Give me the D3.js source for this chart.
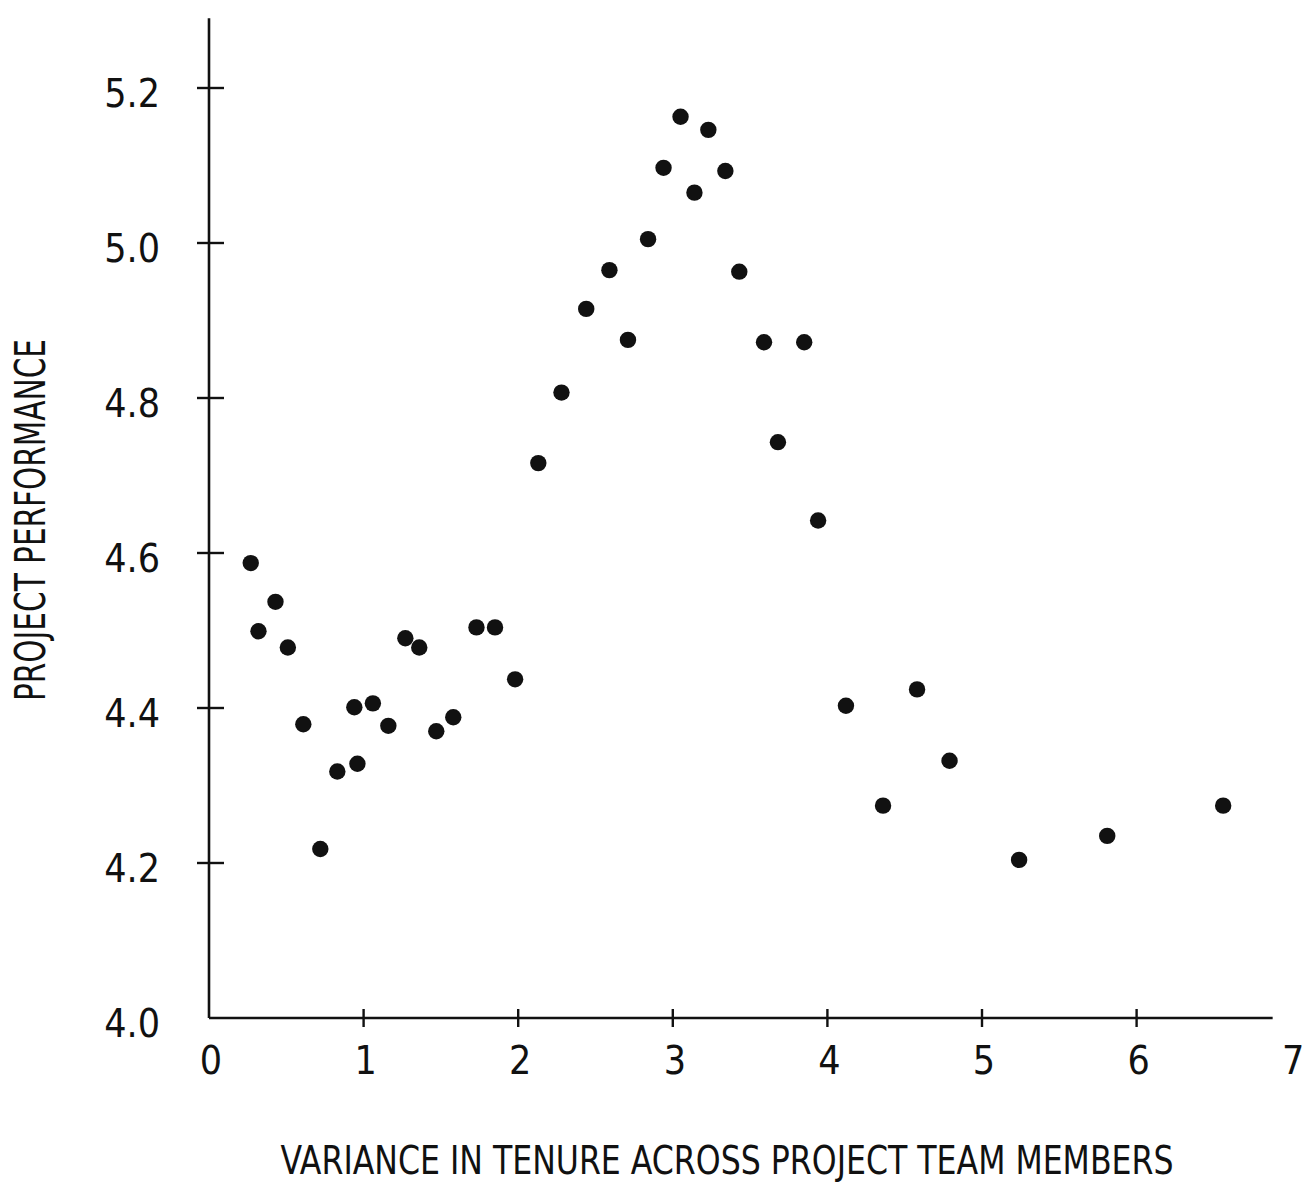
<!DOCTYPE html>
<html>
<head>
<meta charset="utf-8">
<script src="https://cdn.jsdelivr.net/npm/d3@7"></script>
<style>
  html, body { margin: 0; padding: 0; background: #fff; }
  svg { display: block; }
  text { font-family: "DejaVu Sans Condensed", "DejaVu Sans", sans-serif; font-stretch: condensed; fill: #111; }
</style>
</head>
<body>
<svg id="chart" width="1305" height="1185"></svg>
<script>
// ---- data ----
const tenureVariance = [0.27, 0.32, 0.43, 0.51, 0.61, 0.72, 0.83, 0.94, 0.96, 1.06,
  1.16, 1.27, 1.36, 1.47, 1.58, 1.73, 1.85, 1.98, 2.13, 2.28,
  2.44, 2.59, 2.71, 2.84, 2.94, 3.05, 3.14, 3.23, 3.34, 3.43,
  3.59, 3.68, 3.85, 3.94, 4.12, 4.36, 4.58, 4.79, 5.24, 5.81, 6.56];
const performance = [4.587, 4.499, 4.537, 4.478, 4.379, 4.218, 4.318, 4.401, 4.328, 4.406,
  4.377, 4.490, 4.478, 4.370, 4.388, 4.504, 4.504, 4.437, 4.716, 4.807,
  4.915, 4.965, 4.875, 5.005, 5.097, 5.163, 5.065, 5.146, 5.093, 4.963,
  4.872, 4.743, 4.872, 4.642, 4.403, 4.274, 4.424, 4.332, 4.204, 4.235, 4.274];
const xTickValues = [0, 1, 2, 3, 4, 5, 6, 7];
const yTickValues = [4.0, 4.2, 4.4, 4.6, 4.8, 5.0, 5.2];
const xTitle = "VARIANCE IN TENURE ACROSS PROJECT TEAM MEMBERS";
const yTitle = "PROJECT PERFORMANCE";

const points = tenureVariance.map((v, i) => ({ x: v, y: performance[i] }));

const svg = d3.select("#chart");
const x = d3.scaleLinear().domain([0, 7]).range([209, 209 + 7 * 154.6]);
const y = d3.scaleLinear().domain([4.0, 5.2]).range([1018, 88]);

const ink = "#111";

// Y axis line
svg.append("line")
  .attr("x1", x(0)).attr("x2", x(0))
  .attr("y1", y(4.0)).attr("y2", y(5.29))
  .attr("stroke", ink).attr("stroke-width", 2.6);

// X axis line
svg.append("line")
  .attr("x1", x(0)).attr("x2", x(6.88))
  .attr("y1", y(4.0)).attr("y2", y(4.0))
  .attr("stroke", ink).attr("stroke-width", 2.6);

// Y ticks (crossing marks)
const yt = svg.append("g");
yt.selectAll("line").data(yTickValues.filter(v => v > 4.0)).join("line")
  .attr("x1", x(0) - 12).attr("x2", x(0) + 15)
  .attr("y1", d => y(d)).attr("y2", d => y(d))
  .attr("stroke", ink).attr("stroke-width", 2.4);
yt.selectAll("text").data(yTickValues).join("text")
  .attr("x", x(0) - 49)
  .attr("y", d => y(d) + 5)
  .attr("text-anchor", "end")
  .attr("dominant-baseline", "central")
  .attr("font-size", 39)
  .text(d => d.toFixed(1));

// X ticks
const xt = svg.append("g");
xt.selectAll("line").data(xTickValues.filter(v => v > 0 && v < 7)).join("line")
  .attr("x1", d => x(d)).attr("x2", d => x(d))
  .attr("y1", y(4.0) - 9).attr("y2", y(4.0) + 9)
  .attr("stroke", ink).attr("stroke-width", 2.4);
xt.selectAll("text").data(xTickValues).join("text")
  .attr("x", d => x(d) + 2)
  .attr("y", y(4.0) + 42)
  .attr("text-anchor", "middle")
  .attr("dominant-baseline", "central")
  .attr("font-size", 39)
  .text(d => d);

// Points
svg.append("g").selectAll("circle").data(points).join("circle")
  .attr("cx", d => x(d.x))
  .attr("cy", d => y(d.y))
  .attr("r", 8.2)
  .attr("fill", ink);

// Axis titles
svg.append("text")
  .attr("x", 727).attr("y", 1174)
  .attr("text-anchor", "middle")
  .attr("font-size", 39)
  .attr("textLength", 893)
  .attr("lengthAdjust", "spacingAndGlyphs")
  .text(xTitle);

svg.append("text")
  .attr("transform", "translate(30,520) rotate(-90)")
  .attr("text-anchor", "middle")
  .attr("dominant-baseline", "central")
  .attr("font-size", 42)
  .attr("textLength", 362)
  .attr("lengthAdjust", "spacingAndGlyphs")
  .text(yTitle);
</script>
</body>
</html>
